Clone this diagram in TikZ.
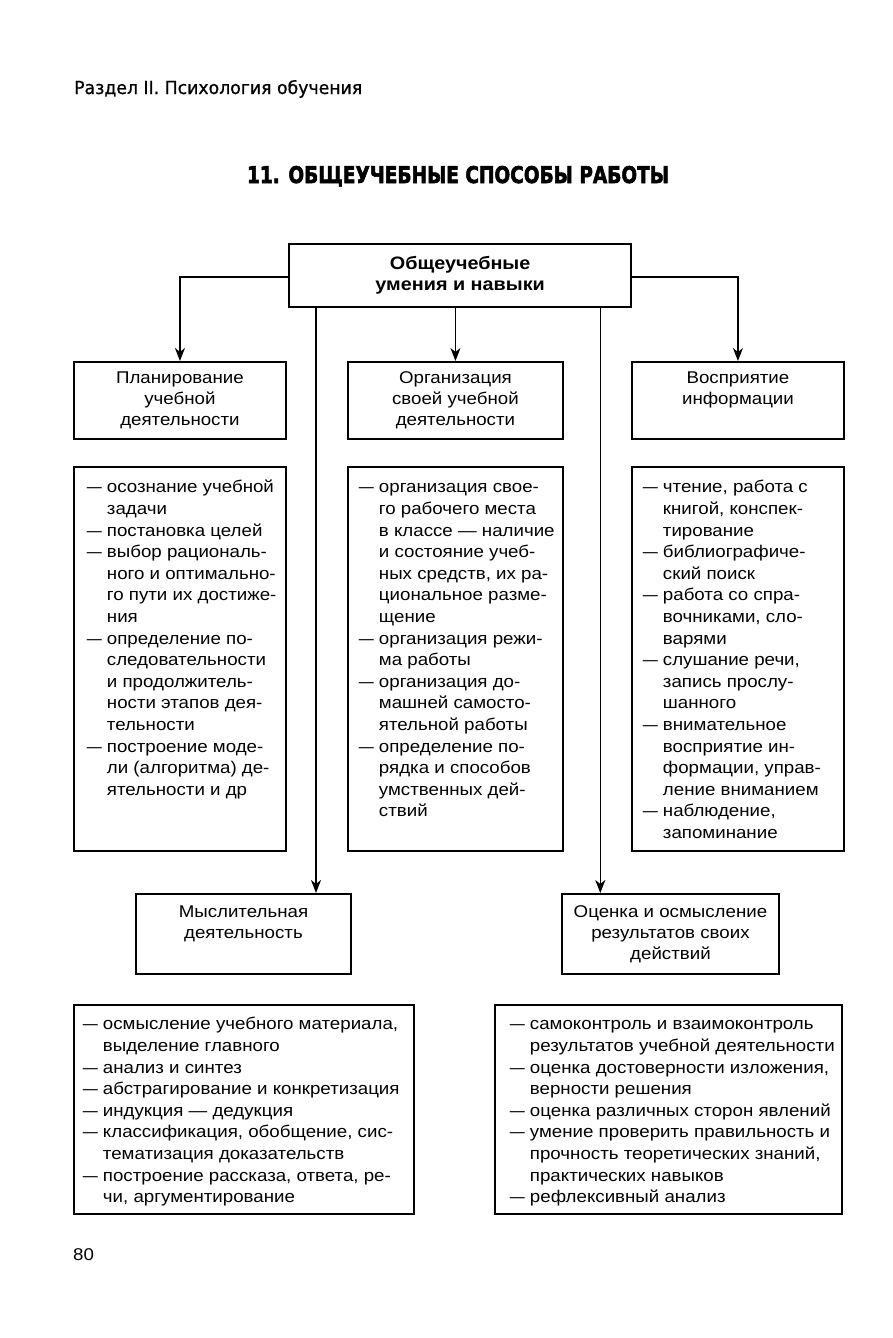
\documentclass[tikz,border=0pt]{standalone}
\usepackage{fontspec}
\setmainfont{Liberation Sans}[FakeStretch=1.1]
\newfontfamily\hdrfont{DejaVu Sans}[FakeBold=0.8]
\newfontfamily\ttlfont{DejaVu Sans}[BoldFeatures={FakeBold=2.6}]
\usetikzlibrary{arrows.meta}
\newcommand\listfont{\fontsize{17}{21.6}\selectfont}
\newcommand\headfont{\fontsize{17}{21}\selectfont}
\newcommand\bxc[3]{\parbox[c][#2][t]{#1}{#3}}
\newcommand\dsh{\resizebox{15pt}{\height}{—}\hspace{5pt}}
\newcommand\ia[1]{\mbox{\dsh #1}\par}
\newcommand\ib[1]{\mbox{\hphantom{\dsh}#1}\par}
\newcommand\fr[1]{\rule{0pt}{#1}}
\begin{document}
\begin{tikzpicture}[x=1pt,y=-1pt,
  box/.style={draw, line width=1.9pt, inner sep=0pt, anchor=north west},
  topbox/.style={draw, line width=2.3pt, inner sep=0pt, anchor=north west},
  arr/.style={line width=1.6pt, -{Stealth[length=13pt,width=10pt,inset=4pt]}}]
\useasboundingbox (0,0) rectangle (892,1338);
\fill[white] (0,0) rectangle (892,1338);

% header
\node[anchor=base west, inner sep=0pt] (hdr) at (74,94)
  {\resizebox{288pt}{\height}{\hdrfont\fontsize{18}{21}\selectfont Раздел II. Психология обучения}};
\node[anchor=base, inner sep=0pt] (ttl) at (458,183)
  {\resizebox{422pt}{\height}{\ttlfont\bfseries\fontsize{23}{26}\selectfont 11. ОБЩЕУЧЕБНЫЕ СПОСОБЫ РАБОТЫ}};

% top box
\node[topbox] (top) at (288,243)
  {\parbox[c][63pt][c]{342pt}{\centering\fontsize{18}{21}\selectfont\bfseries Общеучебные\\умения и навыки}};

% level-2 boxes
\node[box] (plan) at (73,361)
  {\bxc{212pt}{77pt}{\centering\headfont\fr{22pt}Планирование\\учебной\\деятельности}};
\node[box] (org) at (347,361)
  {\bxc{215pt}{77pt}{\centering\headfont\fr{22pt}Организация\\своей учебной\\деятельности}};
\node[box] (perc) at (631,361)
  {\bxc{212pt}{77pt}{\centering\headfont\fr{22pt}Восприятие\\информации}};

% bottom boxes
\node[box] (think) at (135,893)
  {\bxc{215pt}{80pt}{\centering\headfont\fr{24pt}Мыслительная\\деятельность}};
\node[box] (eval) at (561,893)
  {\bxc{217pt}{80pt}{\centering\headfont\fr{24pt}Оценка и осмысление\\результатов своих\\действий}};

% connectors
\draw[arr] (top.west |- 0,277) -| (plan.north);
\draw[arr] (top.east |- 0,277) -| (perc.north);
\draw[arr] (top.south -| org.north) -- (org.north);
\draw[arr] ([xshift=28pt]top.south west) -- ([xshift=28pt]top.south west |- think.north);
\draw[arr] ([xshift=-32pt]top.south east) -- ([xshift=-32pt]top.south east |- eval.north);

% list boxes
\node[box] (l1) at (73,466)
  {\bxc{212pt}{384pt}{\listfont\leftskip=13pt
    \ia{\fr{26pt}осознание учебной}
    \ib{задачи}
    \ia{постановка целей}
    \ia{выбор рациональ-}
    \ib{ного и оптимально-}
    \ib{го пути их достиже-}
    \ib{ния}
    \ia{определение по-}
    \ib{следовательности}
    \ib{и продолжитель-}
    \ib{ности этапов дея-}
    \ib{тельности}
    \ia{построение моде-}
    \ib{ли (алгоритма) де-}
    \ib{ятельности и др}}};
\node[box] (l2) at (347,466)
  {\bxc{215pt}{384pt}{\listfont\leftskip=11pt
    \ia{\fr{26pt}организация свое-}
    \ib{го рабочего места}
    \ib{в классе — наличие}
    \ib{и состояние учеб-}
    \ib{ных средств, их ра-}
    \ib{циональное разме-}
    \ib{щение}
    \ia{организация режи-}
    \ib{ма работы}
    \ia{организация до-}
    \ib{машней самосто-}
    \ib{ятельной работы}
    \ia{определение по-}
    \ib{рядка и способов}
    \ib{умственных дей-}
    \ib{ствий}}};
\node[box] (l3) at (631,466)
  {\bxc{212pt}{384pt}{\listfont\leftskip=11pt
    \ia{\fr{26pt}чтение, работа с}
    \ib{книгой, конспек-}
    \ib{тирование}
    \ia{библиографиче-}
    \ib{ский поиск}
    \ia{работа со спра-}
    \ib{вочниками, сло-}
    \ib{варями}
    \ia{слушание речи,}
    \ib{запись прослу-}
    \ib{шанного}
    \ia{внимательное}
    \ib{восприятие ин-}
    \ib{формации, управ-}
    \ib{ление вниманием}
    \ia{наблюдение,}
    \ib{запоминание}}};

% bottom lists
\node[box] (l4) at (73,1004)
  {\bxc{340pt}{209pt}{\listfont\leftskip=9pt
    \ia{\fr{25pt}осмысление учебного материала,}
    \ib{выделение главного}
    \ia{анализ и синтез}
    \ia{абстрагирование и конкретизация}
    \ia{индукция — дедукция}
    \ia{классификация, обобщение, сис-}
    \ib{тематизация  доказательств}
    \ia{построение рассказа, ответа, ре-}
    \ib{чи, аргументирование}}};
\node[box] (l5) at (494,1004)
  {\bxc{347pt}{209pt}{\listfont\leftskip=15pt
    \ia{\fr{25pt}самоконтроль и взаимоконтроль}
    \ib{результатов учебной деятельности}
    \ia{оценка достоверности изложения,}
    \ib{верности решения}
    \ia{оценка различных сторон явлений}
    \ia{умение проверить правильность и}
    \ib{прочность теоретических знаний,}
    \ib{практических навыков}
    \ia{рефлексивный анализ}}};

% page number
\node[anchor=base west, inner sep=0pt] (pg) at (73,1260) {\fontsize{17}{20}\selectfont 80};
\end{tikzpicture}
\end{document}
